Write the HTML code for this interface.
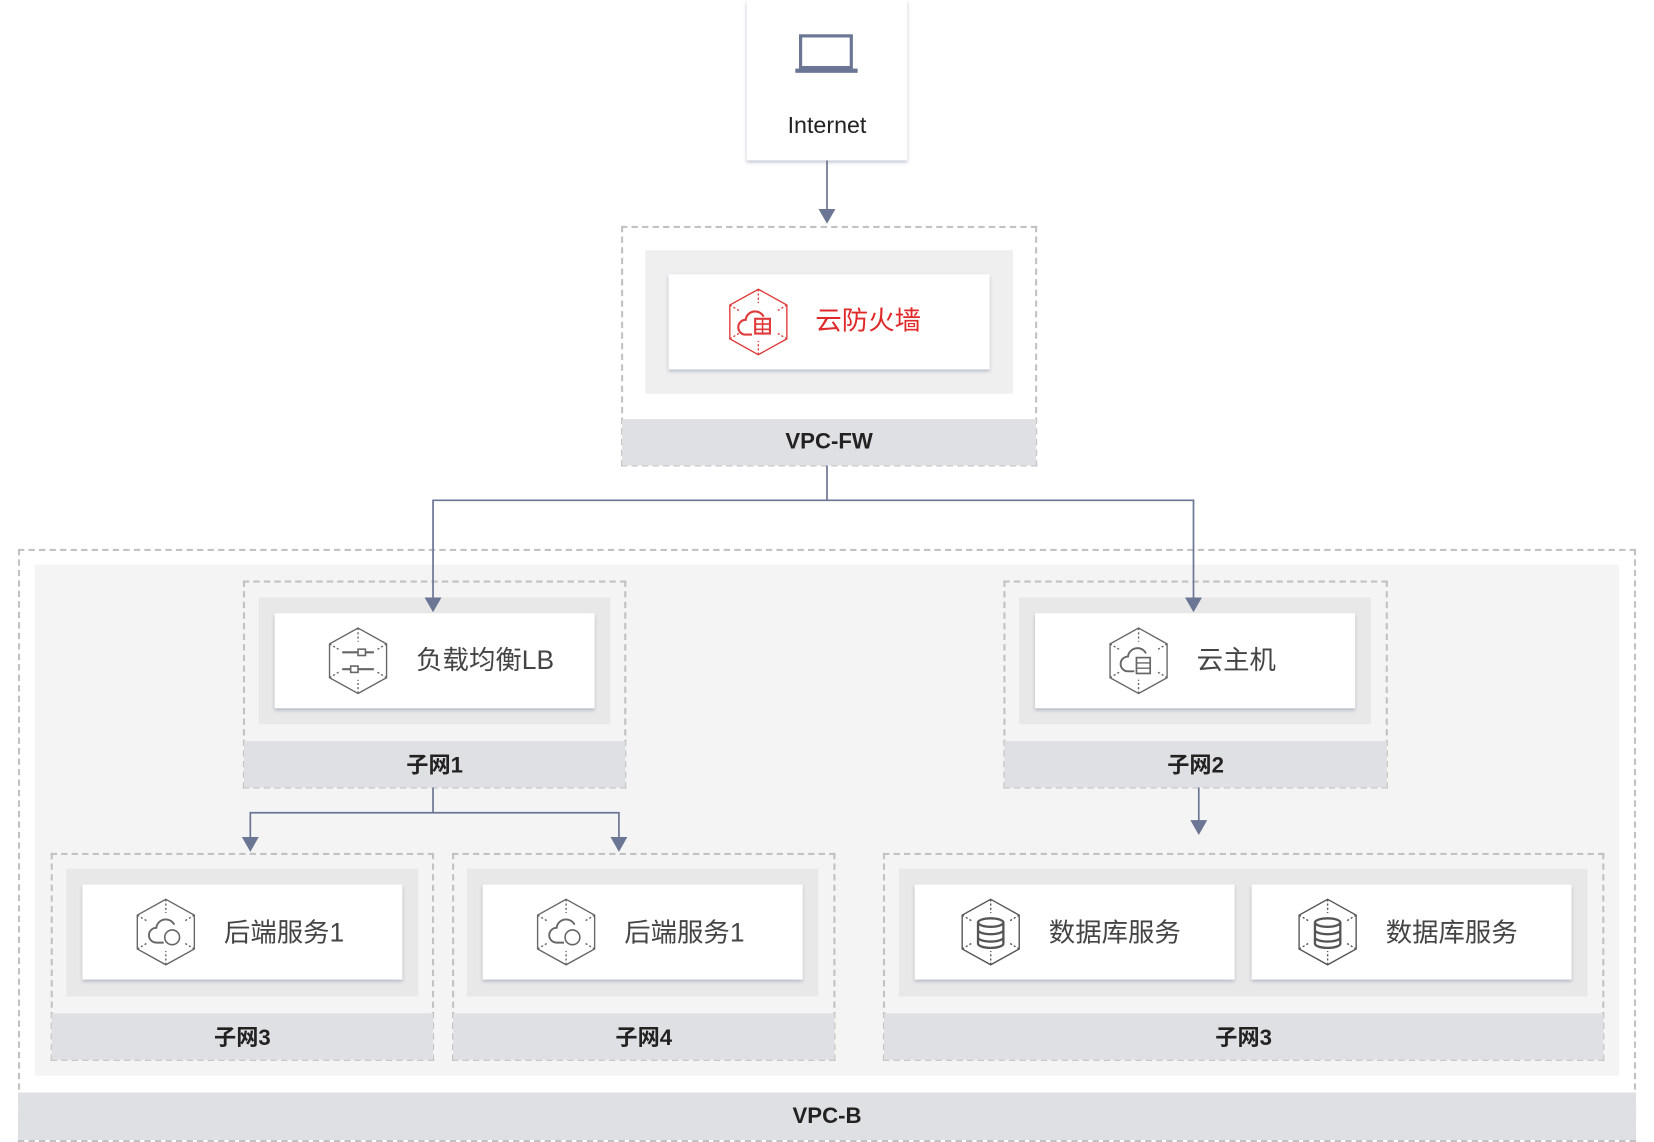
<!DOCTYPE html>
<html><head><meta charset="utf-8"><style>
html,body{margin:0;padding:0;background:#fff;width:1654px;height:1140px;overflow:hidden}
#s{position:absolute;left:0;top:0;width:1566px;height:1080px;transform:scale(1.05619,1.05556);transform-origin:0 0;font-family:"Liberation Sans","Noto Sans CJK SC",sans-serif}
.a{position:absolute;box-sizing:border-box}
.d{border:2px dashed #c2c2c2}
.band{background:#dfe0e4;display:flex;align-items:center;justify-content:center;font-weight:bold;font-size:21px;color:#222}
.card{background:#fff;box-shadow:0 2px 3px rgba(120,130,160,.45)}
.t{position:absolute;font-size:25px;color:#444;white-space:nowrap;line-height:1}
</style></head><body><div id="s">
<div class="a card" style="left:707px;top:0;width:152px;height:152px"></div>
<svg class="a" style="left:752px;top:30px" width="62" height="42"><rect x="6" y="4" width="48" height="30" fill="none" stroke="#6b7594" stroke-width="3"/><rect x="1" y="35" width="59" height="4" fill="#6b7594"/></svg>
<div class="t" style="left:707px;width:152px;text-align:center;top:108px;font-size:22px;color:#222">Internet</div>

<div class="a d" style="left:588px;top:214px;width:394px;height:228px"></div>
<div class="a" style="left:611px;top:237px;width:348px;height:136px;background:#efefef"></div>
<div class="a card" style="left:633px;top:260px;width:304px;height:90px"></div>
<div class="a band" style="left:589px;top:397px;width:392px;height:44px">VPC-FW</div>

<div class="a d" style="left:17px;top:520px;width:1532px;height:562px"></div>
<div class="a" style="left:33px;top:535px;width:1500px;height:484px;background:#f4f4f4"></div>
<div class="a band" style="left:17px;top:1035px;width:1532px;height:45px">VPC-B</div>

<div class="a d" style="left:230px;top:550px;width:363px;height:197px"></div>
<div class="a" style="left:245px;top:566px;width:333px;height:120px;background:#e8e8e8"></div>
<div class="a band" style="left:231px;top:702px;width:361px;height:44px">子网1</div>
<div class="a card" style="left:260px;top:581px;width:303px;height:90px"></div>

<div class="a d" style="left:950px;top:550px;width:364px;height:197px"></div>
<div class="a" style="left:965px;top:566px;width:333px;height:120px;background:#e8e8e8"></div>
<div class="a band" style="left:951px;top:702px;width:362px;height:44px">子网2</div>
<div class="a card" style="left:980px;top:581px;width:303px;height:90px"></div>

<div class="a d" style="left:48px;top:808px;width:363px;height:197px"></div>
<div class="a" style="left:63px;top:823px;width:333px;height:121px;background:#e8e8e8"></div>
<div class="a band" style="left:49px;top:960px;width:361px;height:44px">子网3</div>
<div class="a card" style="left:78px;top:838px;width:303px;height:90px"></div>

<div class="a d" style="left:428px;top:808px;width:363px;height:197px"></div>
<div class="a" style="left:442px;top:823px;width:333px;height:121px;background:#e8e8e8"></div>
<div class="a band" style="left:429px;top:960px;width:361px;height:44px">子网4</div>
<div class="a card" style="left:457px;top:838px;width:303px;height:90px"></div>

<div class="a d" style="left:836px;top:808px;width:683px;height:197px"></div>
<div class="a" style="left:851px;top:823px;width:652px;height:121px;background:#e8e8e8"></div>
<div class="a band" style="left:837px;top:960px;width:681px;height:44px">子网3</div>
<div class="a card" style="left:866px;top:838px;width:303px;height:90px"></div>
<div class="a card" style="left:1185px;top:838px;width:303px;height:90px"></div>

<svg class="a" style="left:0;top:0" width="1566" height="1080">
<g fill="none" stroke="#6b7594" stroke-width="1.6">
<path d="M783 152V200"/><path d="M783 441V474H410V568M783 474H1130V568"/>
<path d="M410 746V770H237V795M410 770H586V795"/><path d="M1135 746V778"/>
</g>
<g fill="#6b7594">
<path d="M775 198h16l-8 14z"/><path d="M402 566h16l-8 14z"/><path d="M1122 566h16l-8 14z"/>
<path d="M229 793h16l-8 14z"/><path d="M578 793h16l-8 14z"/><path d="M1127 777h16l-8 14z"/>
</g>
<defs>
<g id="hex" fill="none" stroke-width="1.3"><path d="M0 -31L27 -16V16L0 31L-27 16V-16Z"/><path d="M0 -31V-18M-27 -16L-17 -10M27 -16L17 -10M0 31V18M-27 16L-17 10M27 16L17 10" stroke-dasharray="2 2"/></g>
</defs>
<g transform="translate(718,305)" stroke="#e03a3a"><use href="#hex"/><path d="M-6 12H-12a7 7 0 0 1 0-14a9 9 0 0 1 17-3" fill="none" stroke-width="2"/><rect x="-3" y="-3" width="14" height="14" fill="none" stroke-width="2"/><path d="M-3 2H11M-3 7H11M4 -3V12" stroke-width="1.5"/></g>
<g transform="translate(339,626)" stroke="#666"><use href="#hex"/><path d="M-15 -8H15M-15 8H15" stroke-width="2"/><rect x="0" y="-11" width="7" height="6" fill="#fff" stroke-width="1.5"/><rect x="-7" y="5" width="7" height="6" fill="#fff" stroke-width="1.5"/></g>
<g transform="translate(1078,626)" stroke="#666"><use href="#hex"/><path d="M-4 10H-10a7 7 0 0 1 0-14a9 9 0 0 1 17-3" fill="none" stroke-width="1.8"/><rect x="-2" y="-3" width="13" height="15" fill="#fff" stroke-width="1.6"/><path d="M-2 2H11M-2 7H11" stroke-width="1.3"/></g>
<g transform="translate(157,883)" stroke="#666"><use href="#hex"/><path d="M-2 10H-9a7 7 0 0 1 0-14a9 9 0 0 1 17-3" fill="none" stroke-width="1.8"/><circle cx="6" cy="5" r="7" fill="#fff" stroke-width="1.5"/></g>
<g transform="translate(536,883)" stroke="#666"><use href="#hex"/><path d="M-2 10H-9a7 7 0 0 1 0-14a9 9 0 0 1 17-3" fill="none" stroke-width="1.8"/><circle cx="6" cy="5" r="7" fill="#fff" stroke-width="1.5"/></g>
<g transform="translate(938,883)" stroke="#555"><use href="#hex"/><g fill="none" stroke-width="2.2"><ellipse cx="0" cy="-9" rx="12" ry="4"/><path d="M-12 -9V11a12 4 0 0 0 24 0V-9M-12 -2a12 4 0 0 0 24 0M-12 5a12 4 0 0 0 24 0"/></g></g>
<g transform="translate(1257,883)" stroke="#555"><use href="#hex"/><g fill="none" stroke-width="2.2"><ellipse cx="0" cy="-9" rx="12" ry="4"/><path d="M-12 -9V11a12 4 0 0 0 24 0V-9M-12 -2a12 4 0 0 0 24 0M-12 5a12 4 0 0 0 24 0"/></g></g>
</svg>
<div class="t" style="left:772px;top:292px;color:#e02a2a">云防火墙</div>
<div class="t" style="left:394px;top:614px">负载均衡LB</div>
<div class="t" style="left:1133px;top:614px">云主机</div>
<div class="t" style="left:212px;top:872px">后端服务1</div>
<div class="t" style="left:591px;top:872px">后端服务1</div>
<div class="t" style="left:993px;top:872px">数据库服务</div>
<div class="t" style="left:1312px;top:872px">数据库服务</div>
</div></body></html>
